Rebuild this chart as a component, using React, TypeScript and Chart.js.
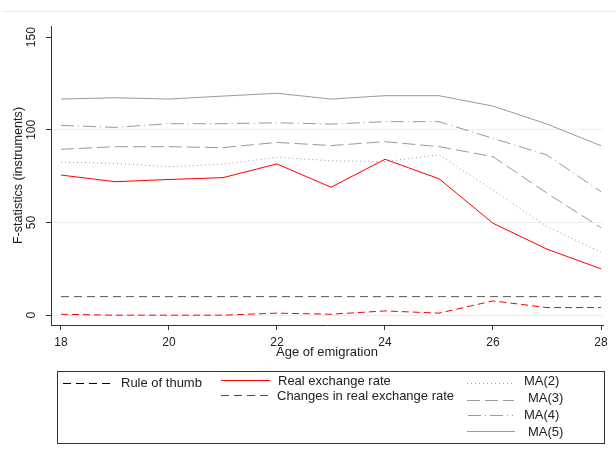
import { useEffect, useRef } from 'react';
import { Chart, registerables } from 'chart.js';

Chart.register(...registerables);

const years = [18, 19, 20, 21, 22, 23, 24, 25, 26, 27, 28];
const ruleOfThumb = [10, 10, 10, 10, 10, 10, 10, 10, 10, 10, 10];
const realExchangeRate = [75.6, 72.0, 73.2, 74.2, 81.6, 69.0, 84.1, 73.6, 49.6, 35.6, 25.0];
const changesRealExchangeRate = [0.5, 0, 0, 0, 1.1, 0.5, 2.3, 1.1, 7.7, 4.1, 4.1];
const ma2 = [82.6, 81.9, 80.1, 81.4, 85.2, 83.3, 82.8, 86.6, 67.5, 47.8, 34.0];
const ma3 = [89.5, 90.9, 90.9, 90.4, 93.2, 91.5, 93.6, 90.9, 85.5, 65.8, 47.2];
const ma4 = [102.4, 101.3, 103.3, 103.3, 103.8, 103.1, 104.4, 104.4, 95.4, 86.4, 66.6];
const ma5 = [116.6, 117.3, 116.6, 118.2, 119.7, 116.6, 118.4, 118.4, 112.8, 103.1, 91.4];

const xTitle = 'Age of emigration';
const yTitle = 'F-statistics (instruments)';
const seriesNames = ['Rule of thumb', 'Real exchange rate', 'Changes in real exchange rate', 'MA(2)', 'MA(3)', 'MA(4)', 'MA(5)'];

const FONT = '"Liberation Sans", Arial, Helvetica, sans-serif';
const RED = '#ff0000';
const GRAY = '#9a9a9a';
const DARK = '#555555';
const TEXT = '#222222';

const dashes = {
  rule: [8, 5],
  changes: [7, 4],
  ma2: [1, 3],
  ma3: [13, 5],
  ma4: [13, 4, 1, 4],
  none: [] as number[],
};

export default function App() {
  const ref = useRef<HTMLCanvasElement>(null);

  useEffect(() => {
    document.body.style.margin = '0';
    const canvas = ref.current!;
    const toXY = (arr: number[]) => years.map((x, i) => ({ x, y: arr[i] }));

    const mk = (label: string, arr: number[], color: string, dash: number[]) => ({
      label,
      data: toXY(arr),
      borderColor: color,
      backgroundColor: color,
      borderWidth: 1,
      borderDash: dash,
      pointRadius: 0,
      tension: 0,
      fill: false,
    });

    const bgPlugin = {
      id: 'bgPlugin',
      beforeDraw(chart: any) {
        const c = chart.ctx;
        c.save();
        c.fillStyle = '#ffffff';
        c.fillRect(0, 0, chart.width, chart.height);
        c.strokeStyle = '#e4ecec';
        c.lineWidth = 1;
        c.beginPath();
        c.moveTo(2, 11.5);
        c.lineTo(chart.width, 11.5);
        c.stroke();
        c.restore();
      },
    };

    const legendItems = [
      { text: seriesNames[0], color: '#000000', dash: dashes.rule, x1: 63, x2: 113, ly: 383, tx: 121, ty: 383 },
      { text: seriesNames[1], color: RED, dash: dashes.none, x1: 221, x2: 270, ly: 380, tx: 278, ty: 381.5 },
      { text: seriesNames[2], color: RED, dash: dashes.rule, x1: 221, x2: 270, ly: 395, tx: 277, ty: 396 },
      { text: seriesNames[3], color: GRAY, dash: dashes.ma2, x1: 467, x2: 513, ly: 383, tx: 524, ty: 381 },
      { text: seriesNames[4], color: GRAY, dash: dashes.ma3, x1: 467, x2: 514, ly: 399.5, tx: 528, ty: 398.5 },
      { text: seriesNames[5], color: GRAY, dash: dashes.ma4, x1: 468, x2: 513, ly: 414.5, tx: 524, ty: 415 },
      { text: seriesNames[6], color: GRAY, dash: dashes.none, x1: 467, x2: 515, ly: 431, tx: 528, ty: 432.5 },
    ];

    const legendPlugin = {
      id: 'stataLegend',
      afterDraw(chart: any) {
        const c = chart.ctx;
        c.save();
        c.strokeStyle = '#333333';
        c.lineWidth = 1;
        c.setLineDash([]);
        c.strokeRect(57.5, 371.5, 547, 72);
        c.font = `13px ${FONT}`;
        c.textBaseline = 'middle';
        c.textAlign = 'left';
        for (const it of legendItems) {
          c.strokeStyle = it.color;
          c.setLineDash(it.dash);
          c.beginPath();
          c.moveTo(it.x1, Math.round(it.ly) + 0.5);
          c.lineTo(it.x2, Math.round(it.ly) + 0.5);
          c.stroke();
          c.fillStyle = TEXT;
          c.fillText(it.text, it.tx, it.ty);
        }
        c.restore();
      },
    };

    const chart = new Chart(canvas, {
      type: 'line',
      data: {
        datasets: [
          mk(seriesNames[6], ma5, GRAY, dashes.none),
          mk(seriesNames[5], ma4, GRAY, dashes.ma4),
          mk(seriesNames[4], ma3, GRAY, dashes.ma3),
          mk(seriesNames[3], ma2, GRAY, dashes.ma2),
          mk(seriesNames[0], ruleOfThumb, DARK, dashes.rule),
          mk(seriesNames[2], changesRealExchangeRate, RED, dashes.changes),
          mk(seriesNames[1], realExchangeRate, RED, dashes.none),
        ],
      },
      options: {
        responsive: false,
        animation: false,
        devicePixelRatio: 1,
        layout: { padding: { left: 0, top: 26, right: 13, bottom: 100 } },
        plugins: {
          legend: { display: false },
          tooltip: { enabled: false },
          title: { display: false },
        },
        scales: {
          x: {
            type: 'linear',
            min: 17.815,
            max: 28.037,
            afterFit(scale: any) {
              scale.height = 35;
            },
            ticks: {
              stepSize: 2,
              includeBounds: false,
              color: TEXT,
              font: { family: FONT, size: 12 },
              padding: 5,
              maxRotation: 0,
              minRotation: 0,
            },
            grid: {
              drawOnChartArea: false,
              drawTicks: true,
              tickLength: 5,
              tickColor: '#333333',
            },
            border: { display: true, color: '#333333', width: 1 },
            title: {
              display: true,
              text: xTitle,
              color: TEXT,
              font: { family: FONT, size: 13 },
              padding: { top: 0, bottom: 0 },
            },
          },
          y: {
            type: 'linear',
            min: -5.3,
            max: 156,
            afterFit(scale: any) {
              scale.width = 51;
            },
            ticks: {
              stepSize: 50,
              includeBounds: false,
              color: TEXT,
              font: { family: FONT, size: 12 },
              padding: 4,
              minRotation: 90,
              maxRotation: 90,
              crossAlign: 'center',
            },
            grid: {
              drawOnChartArea: true,
              drawTicks: true,
              tickLength: 5,
              tickColor: '#333333',
              color: (ctx: any) => (ctx.tick && ctx.tick.value === 150 ? 'rgba(0,0,0,0)' : '#e6eeee'),
            },
            border: { display: true, color: '#333333', width: 1 },
            title: {
              display: true,
              text: yTitle,
              color: TEXT,
              font: { family: FONT, size: 12.6 },
              padding: { top: 11, bottom: 0 },
            },
          },
        },
      },
      plugins: [bgPlugin, legendPlugin],
    } as any);

    return () => chart.destroy();
  }, []);

  return (
    <div style={{ width: 616, height: 460 }}>
      <canvas ref={ref} width={616} height={460} style={{ display: 'block' }} />
    </div>
  );
}
